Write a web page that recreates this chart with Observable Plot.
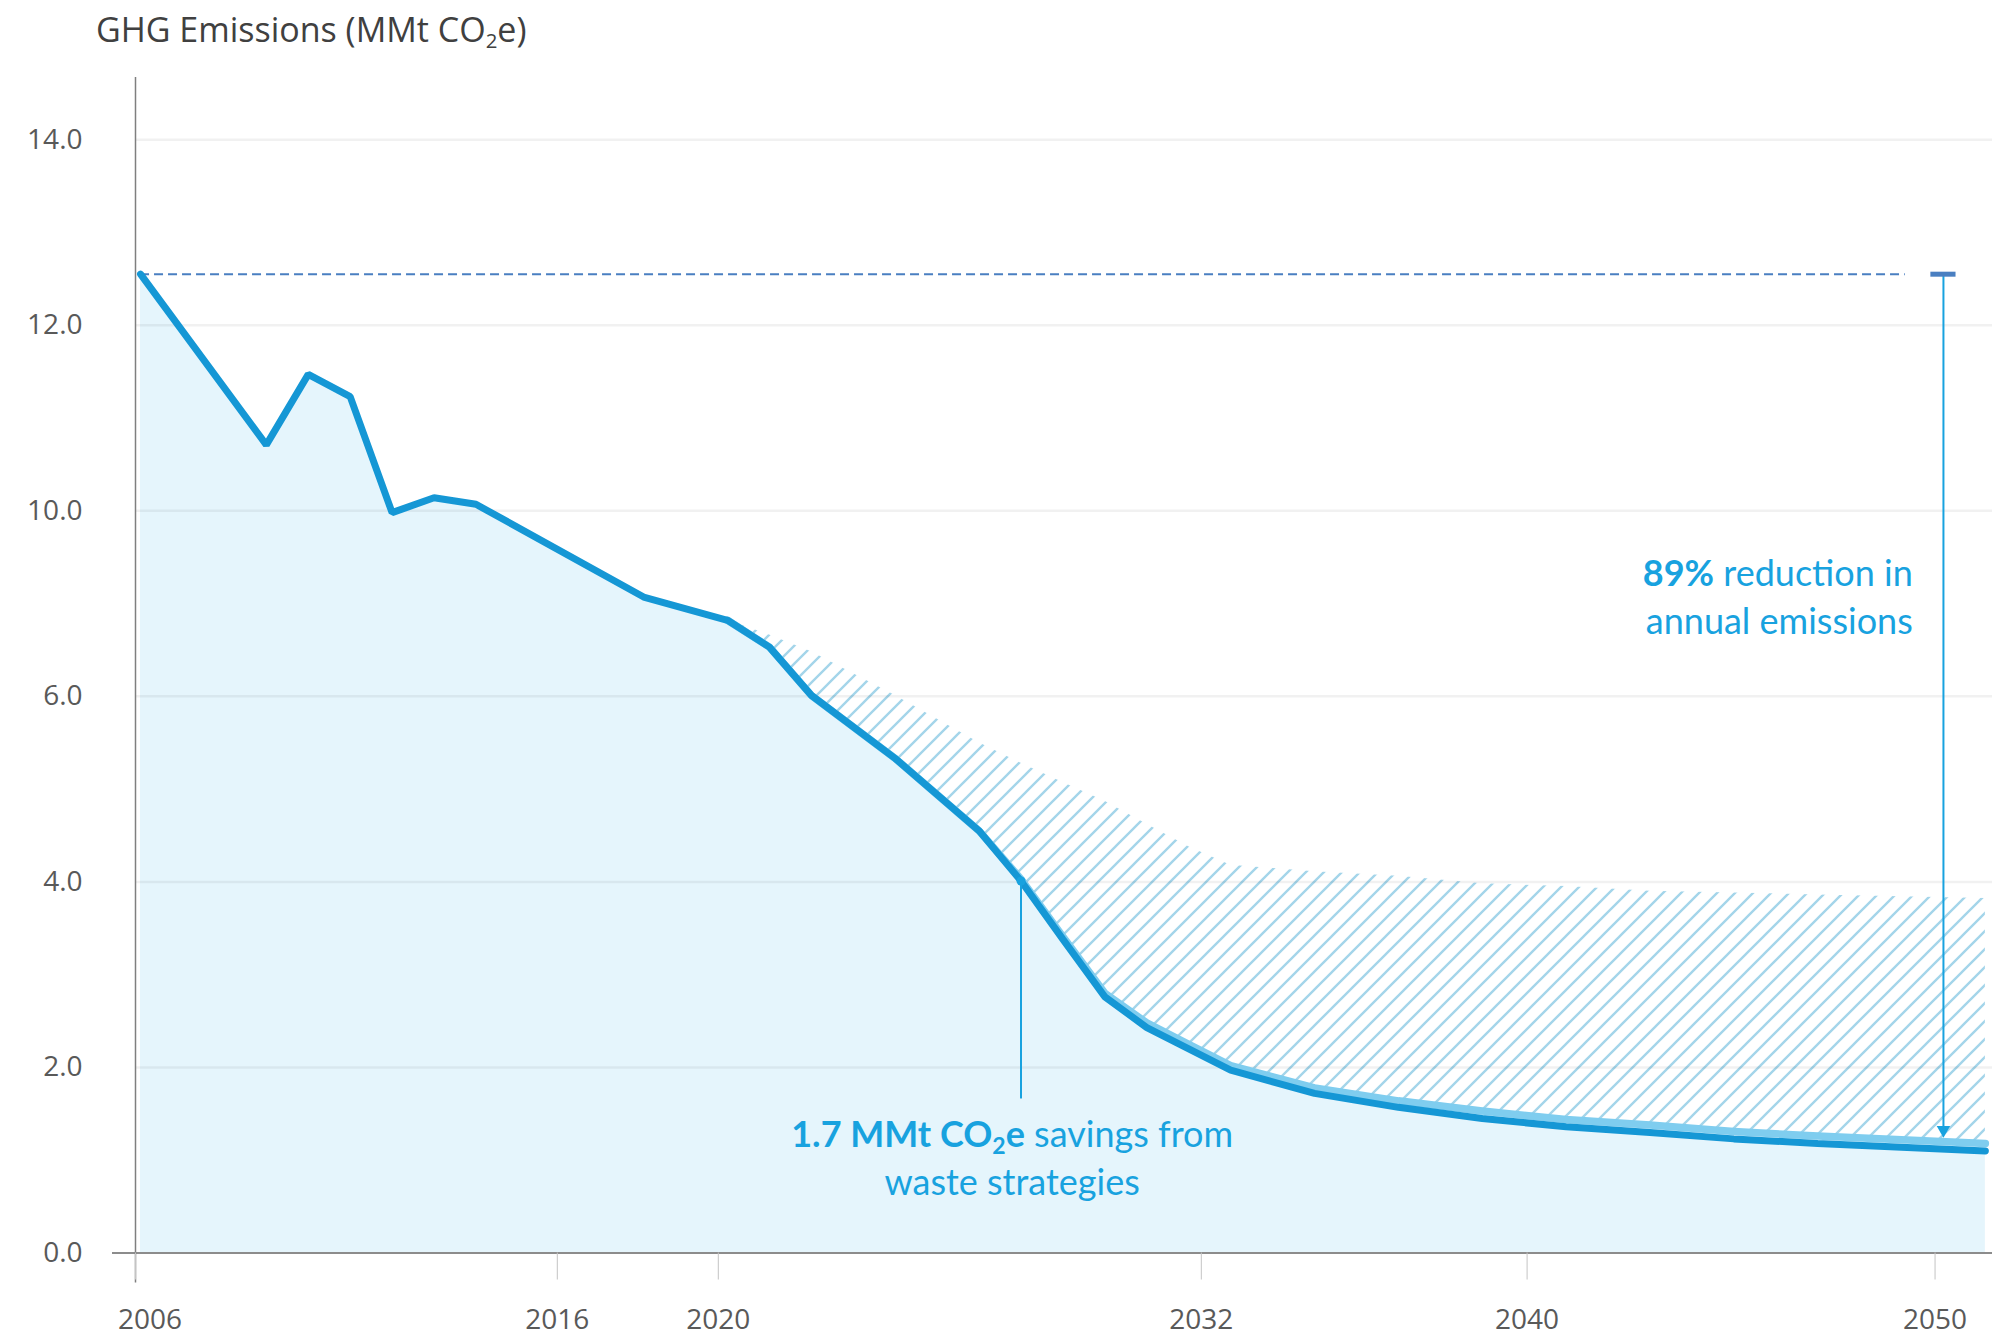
<!DOCTYPE html>
<html>
<head>
<meta charset="utf-8">
<script src="https://cdn.jsdelivr.net/npm/d3@7"></script>
<script src="https://cdn.jsdelivr.net/npm/@observablehq/plot@0.6"></script>
<style>
  body { margin: 0; background: #fff; }
  #wrap { position: relative; width: 2002px; height: 1338px; }
  #title { position: absolute; left: 96px; top: 12px; font-family: "Open Sans", sans-serif; font-size: 34px; line-height: 34px; color: #404040; white-space: nowrap; }
  #title .sub { font-size: 0.6em; position: relative; top: 0.3em; }
</style>
</head>
<body>
<div id="wrap">
  <div id="chart"></div>
  <div id="title">GHG Emissions (MMt CO<span class="sub">2</span>e)</div>
</div>
<script>
// ---- data (values in MMt CO2e, as drawn) ----
const years = [2006, 2009, 2010, 2011, 2012, 2013, 2014, 2018, 2020, 2021, 2022, 2024, 2026, 2027, 2028, 2029, 2030, 2031, 2032, 2034, 2036, 2038, 2040, 2042, 2044, 2046, 2048, 2050];
const emissions = [10.55, 8.71, 9.47, 9.23, 7.98, 8.14, 8.07, 7.07, 6.82, 6.53, 6.01, 5.33, 4.55, 4.01, 3.38, 2.76, 2.43, 2.20, 1.97, 1.72, 1.57, 1.45, 1.36, 1.30, 1.23, 1.18, 1.14, 1.10];

const projYears = [2020, 2021, 2022, 2024, 2026, 2027, 2028, 2029, 2030, 2031, 2032, 2034, 2036, 2038, 2040, 2042, 2044, 2046, 2048, 2050];
const withoutWaste = [6.82, 6.53, 6.01, 5.33, 4.55, 4.03, 3.41, 2.80, 2.48, 2.25, 2.02, 1.78, 1.64, 1.53, 1.44, 1.38, 1.31, 1.26, 1.22, 1.18];
const referenceCase = [6.82, 6.66, 6.48, 6.01, 5.50, 5.28, 5.07, 4.87, 4.62, 4.38, 4.18, 4.11, 4.06, 3.98, 3.95, 3.90, 3.88, 3.86, 3.84, 3.82];

// axis ticks (positions and the labels printed at them)
const yTickPos = [0, 2, 4, 6, 8, 10, 12];
const yTickLabels = ["0.0", "2.0", "4.0", "6.0", "10.0", "12.0", "14.0"];
const xTickPos = [2005.88, 2015.94, 2019.78, 2031.30, 2039.07, 2048.80];
const xTickLabels = ["2006", "2016", "2020", "2032", "2040", "2050"];

// annotations
const baselineValue = 10.55;
const dashEndYear = 2048.09;
const arrowYear = 2049;
const arrowTipValue = 1.245;
const savingsYear = 2027;
const savingsDotValue = 4.01;
const savingsLineEnd = 1.66;
const reductionLabel = {year: 2048.28, value: 7.18};
const savingsLabel = {year: 2026.80, value: 1.14};

// ---- build ----
const main = years.map((d, i) => ({year: d, value: emissions[i]}));
const proj = projYears.map((d, i) => ({year: d, low: withoutWaste[i], high: referenceCase[i]}));
const yLabelMap = new Map(yTickPos.map((d, i) => [d, yTickLabels[i]]));
const xLabelMap = new Map(xTickPos.map((d, i) => [d, xTickLabels[i]]));

const blue = "#1597d5";
const lightBlue = "#7fcdef";
const annColor = "#18a2df";
const dashColor = "#4a7fc1";
const tickText = "#595959";

const plot = Plot.plot({
  width: 2002,
  height: 1338,
  marginLeft: 135,
  marginRight: 10,
  marginTop: 77,
  marginBottom: 85.5,
  style: {fontFamily: "Open Sans", fontSize: "28px", color: tickText, background: "transparent"},
  x: {domain: [2005.88, 2050.17], label: null},
  y: {domain: [0, 12.67], label: null},
  marks: [
    Plot.areaY(main, {x: "year", y: "value", fill: "#e5f5fc"}),
    Plot.areaY(proj, {x: "year", y1: "low", y2: "high", fill: "url(#hatch)"}),
    Plot.gridY(yTickPos.filter(d => d > 0), {stroke: "#000", strokeOpacity: 0.055, strokeWidth: 2.5}),
    Plot.ruleY([baselineValue], {x1: years[0], x2: dashEndYear, stroke: dashColor, strokeWidth: 2, strokeDasharray: "9,5"}),
    Plot.lineY(proj, {x: "year", y: "low", stroke: lightBlue, strokeWidth: 7.5}),
    Plot.lineY(main, {x: "year", y: "value", stroke: blue, strokeWidth: 7, strokeLinejoin: "miter"}),
    Plot.ruleY([0], {stroke: "#8c8c8c", strokeWidth: 2, insetLeft: -23}),
    Plot.ruleX([xTickPos[0]], {stroke: "#7f7f7f", strokeWidth: 1.5, insetBottom: -30}),
    // x ticks + labels (first label sits right of its tick, as in the original)
    Plot.axisX({ticks: xTickPos, tickFormat: d => d === xTickPos[0] ? "" : xLabelMap.get(d), tickSize: 27, tickPadding: 29, stroke: "#c4c4c4", fill: tickText, fontSize: 28, label: null}),
    Plot.axisX({ticks: [xTickPos[0]], tickFormat: d => xLabelMap.get(d), tickSize: 0, tickPadding: 56, dx: 14.5, fill: tickText, fontSize: 28, label: null}),
    Plot.axisY({ticks: yTickPos, tickFormat: d => yLabelMap.get(d), tickSize: 0, tickPadding: 53, fill: tickText, fontSize: 28, label: null}),
    // reduction arrow
    Plot.ruleX([arrowYear], {y1: baselineValue, y2: arrowTipValue, stroke: annColor, strokeWidth: 2, insetBottom: 8}),
    Plot.ruleY([baselineValue], {x1: arrowYear - 0.3, x2: arrowYear + 0.3, stroke: dashColor, strokeWidth: 5}),
    Plot.dot([arrowTipValue], {x: () => arrowYear, y: d => d, symbol: "triangle", rotate: 180, r: 5, fill: annColor, stroke: "none", dy: -7.5}),
    // savings callout
    Plot.ruleX([savingsYear], {y1: savingsDotValue, y2: savingsLineEnd, stroke: annColor, strokeWidth: 2}),
    Plot.dot([savingsDotValue], {x: () => savingsYear, y: d => d, r: 4.5, fill: annColor, stroke: "none"})
  ]
});

document.getElementById("chart").appendChild(plot);

// hatch pattern
const svg = d3.select(plot);
const defs = svg.insert("defs", ":first-child");
const P = 18;
const pat = defs.append("pattern").attr("id", "hatch").attr("patternUnits", "userSpaceOnUse")
  .attr("width", P).attr("height", P);
pat.append("path")
  .attr("d", `M-3,3 L3,-3 M0,${P} L${P},0 M${P - 3},${P + 3} L${P + 3},${P - 3}`)
  .attr("stroke", "#a4d5ea").attr("stroke-width", 2.4).attr("fill", "none");

// rich-text annotations positioned through the plot's scales
const X = v => plot.scale("x").apply(v);
const Y = v => plot.scale("y").apply(v);
const ann = svg.append("g").attr("font-family", "Lato, 'Open Sans', sans-serif").attr("font-size", 36)
  .attr("fill", annColor).style("white-space", "pre");

const r1 = ann.append("text").attr("x", X(reductionLabel.year)).attr("y", Y(reductionLabel.value)).attr("text-anchor", "end");
r1.append("tspan").attr("font-weight", "bold").text("89%");
r1.append("tspan").text(" reduction in");
ann.append("text").attr("x", X(reductionLabel.year)).attr("y", Y(reductionLabel.value) + 47.5).attr("text-anchor", "end").text("annual emissions");

const s1 = ann.append("text").attr("x", X(savingsLabel.year)).attr("y", Y(savingsLabel.value)).attr("text-anchor", "middle");
s1.append("tspan").attr("font-weight", "bold").text("1.7 MMt CO");
s1.append("tspan").attr("font-weight", "bold").attr("font-size", 23).attr("dy", 7).text("2");
s1.append("tspan").attr("font-weight", "bold").attr("dy", -7).text("e");
s1.append("tspan").text(" savings from");
ann.append("text").attr("x", X(savingsLabel.year)).attr("y", Y(savingsLabel.value) + 48).attr("text-anchor", "middle").text("waste strategies");
</script>
</body>
</html>
